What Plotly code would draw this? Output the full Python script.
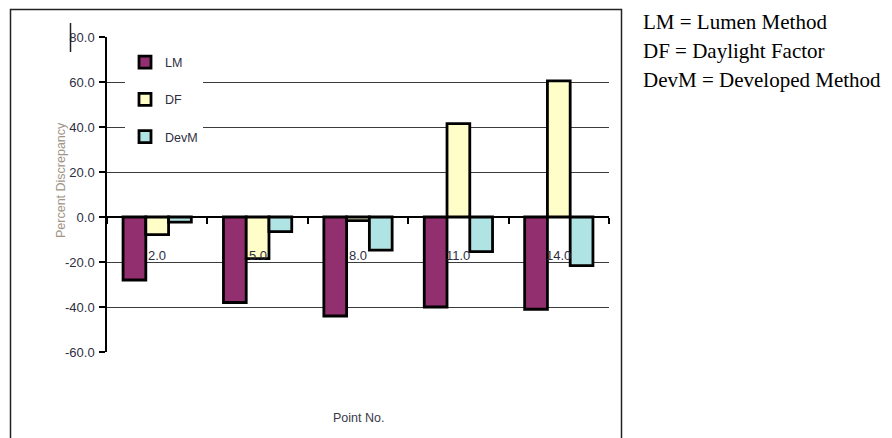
import plotly.graph_objects as go

# The page body adds an 8 px margin, so the figure is sized to the remaining area
OFF = 8
W, H = 892 - OFF, 438 - OFF

categories = ["2.0", "5.0", "8.0", "11.0", "14.0"]
lm_values = [-28.0, -38.0, -44.0, -40.0, -41.0]
df_values = [-7.8, -18.5, -1.6, 41.5, 60.5]
devm_values = [-2.3, -6.5, -14.7, -15.4, -21.6]
series_names = ["LM", "DF", "DevM"]
y_ticks = [-60, -40, -20, 0, 20, 40, 60, 80]
y_tick_text = ["%.1f" % v for v in y_ticks]
notes = ["LM = Lumen Method", "DF = Daylight Factor", "DevM = Developed Method"]

colors = ["#922F6E", "#FFFDC8", "#B0E3E3"]


def px_x(p):
    return (p - OFF) / W


def px_y(p):
    return 1 - (p - OFF) / H


fig = go.Figure()
for name, vals, col in zip(series_names, [lm_values, df_values, devm_values], colors):
    fig.add_trace(go.Bar(
        x=categories, y=vals, name=name, legendgroup=name,
        marker=dict(color=col, line=dict(color="black", width=2.8)),
    ))

axis_font = dict(family="Arial, Liberation Sans, sans-serif", size=13, color="#2e2e40")

fig.update_layout(
    width=W, height=H,
    margin=dict(l=0, r=0, t=0, b=0, pad=0, autoexpand=False),
    paper_bgcolor="white", plot_bgcolor="white",
    barmode="group", bargap=0.32, bargroupgap=0,
    showlegend=True,
    legend=dict(
        x=px_x(125), y=px_y(47.5), xanchor="left", yanchor="top",
        bgcolor="white", borderwidth=0, tracegroupgap=18,
        font=dict(family="Arial, Liberation Sans, sans-serif", size=12.5, color="#2e2e40"),
    ),
    xaxis=dict(
        domain=[px_x(107), px_x(609)],
        type="category",
        categoryorder="array", categoryarray=categories,
        range=[-0.5, len(categories) - 0.5],
        anchor="free", position=px_y(217),
        showline=True, linecolor="black", linewidth=1.5,
        ticks="outside", ticklen=6, tickcolor="black", tickwidth=1.5,
        tickson="boundaries", automargin=False,
        showticklabels=False, showgrid=False, zeroline=False,
    ),
    yaxis=dict(
        domain=[px_y(352), px_y(37)],
        range=[-60, 80],
        tickvals=y_ticks, ticktext=y_tick_text,
        showline=True, linecolor="black", linewidth=1.5,
        ticks="outside", ticklen=6, tickcolor="black", tickwidth=1.5,
        showgrid=True, gridcolor="#3c3c3c", gridwidth=1,
        zeroline=False, automargin=False,
        tickfont=axis_font,
        ticklabelstandoff=2,
    ),
)

# category labels (Excel placed them below the zero axis); x given as category index
for i, c in enumerate(categories):
    fig.add_annotation(x=i, y=-17.3, xref="x", yref="y", text=c, showarrow=False,
                       font=axis_font, xanchor="center", yanchor="middle")

# axis titles
fig.add_annotation(x=px_x(61), y=px_y(180), xref="paper", yref="paper",
                   text="Percent Discrepancy", textangle=-90, showarrow=False,
                   font=dict(family="Arial, Liberation Sans, sans-serif", size=12.5, color="#a09488"),
                   xanchor="center", yanchor="middle")
fig.add_annotation(x=px_x(358), y=px_y(418), xref="paper", yref="paper",
                   text="Point No.", showarrow=False,
                   font=dict(family="Arial, Liberation Sans, sans-serif", size=12.5, color="#3a3a4a"),
                   xanchor="center", yanchor="middle")

# notes on the right
for i, t in enumerate(notes):
    fig.add_annotation(x=px_x(641), y=px_y(21.7 + 29.2 * i), xref="paper", yref="paper",
                       text=t, showarrow=False,
                       font=dict(family="Liberation Serif, Times New Roman, serif", size=21, color="black"),
                       xanchor="left", yanchor="middle")

# outer chart frame
fig.add_shape(type="rect", xref="paper", yref="paper",
              x0=px_x(10.5), x1=px_x(621.5), y0=px_y(9.5), y1=px_y(470),
              line=dict(color="#222222", width=1.5), fillcolor="rgba(0,0,0,0)")
# stray vertical mark near the top tick label
fig.add_shape(type="line", xref="paper", yref="paper",
              x0=px_x(70.5), x1=px_x(70.5), y0=px_y(23), y1=px_y(52),
              line=dict(color="#222222", width=1.5))

fig.write_html("out.html")
